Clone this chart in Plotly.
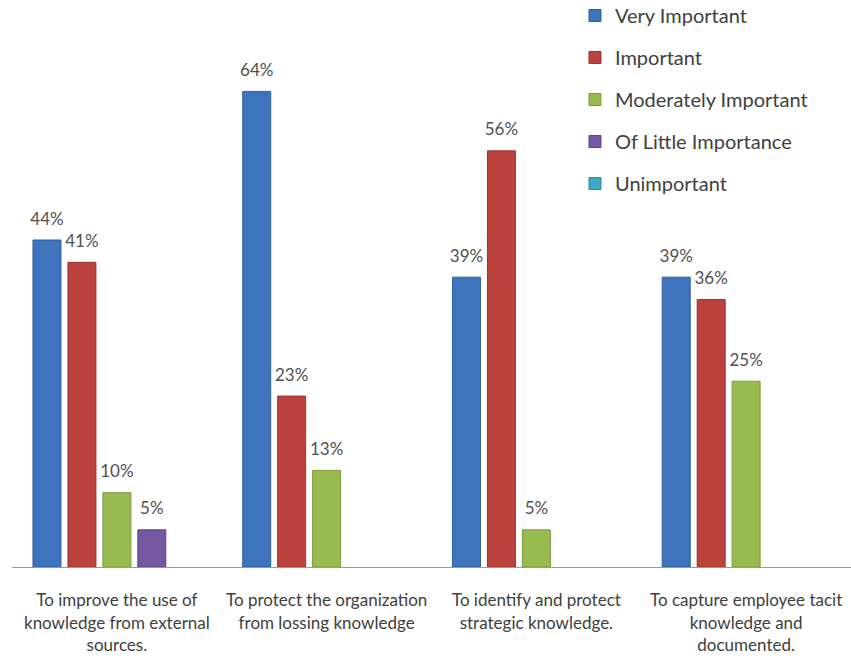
import plotly.graph_objects as go

categories = [
    "To improve the use of<br>knowledge from external<br>sources.",
    "To protect the organization<br>from lossing knowledge",
    "To identify and protect<br>strategic knowledge.",
    "To capture employee tacit<br>knowledge and<br>documented.",
]
series_names = ["Very Important", "Important", "Moderately Important",
                "Of Little Importance", "Unimportant"]
very_important = [44, 64, 39, 39]
important = [41, 23, 56, 36]
moderately_important = [10, 13, 5, 25]
of_little_importance = [5, None, None, None]
unimportant = [None, None, None, None]

values = [very_important, important, moderately_important,
          of_little_importance, unimportant]
colors = ["#3E74BD", "#BC423D", "#99BA4F", "#7558A2", "#3FA9C5"]
edges = ["#2E5C9A", "#9A302C", "#7C9A3C", "#5C4385", "#2E8AA3"]

fig = go.Figure()
for i, (name, vals) in enumerate(zip(series_names, values)):
    fig.add_trace(go.Bar(
        x=list(range(len(categories))), y=vals, name=name,
        marker=dict(color=colors[i], line=dict(color=edges[i], width=1)),
        text=[f"<span style='font-size:17px'>{v}%</span><br>&nbsp;" if v is not None else ""
              for v in vals],
        textposition="outside", cliponaxis=False, constraintext="none",
        textfont=dict(family="Lato", size=8, color="#505050"),
        legendgroup=name,
    ))

fig.update_layout(
    width=851, height=659,
    margin=dict(l=12, r=0, t=0, b=92, autoexpand=False),
    plot_bgcolor="white", paper_bgcolor="white",
    barmode="group", bargap=0.1667, bargroupgap=0.2,
    showlegend=True,
    legend=dict(x=0.671, y=1.007, xanchor="left", yanchor="top",
                font=dict(family="Lato", size=20, color="#404040"),
                tracegroupgap=13, bgcolor="rgba(0,0,0,0)"),
    xaxis=dict(tickmode="array", tickvals=list(range(len(categories))),
               ticktext=categories, range=[-0.5, 3.5],
               showline=True, linecolor="#9A9A9A", linewidth=1,
               ticks="", showgrid=False, zeroline=False,
               ticklabelstandoff=18,
               tickfont=dict(family="Lato", size=17, color="#404040")),
    yaxis=dict(range=[0, 76.3], visible=False, showgrid=False),
)

fig.write_html("out.html")
